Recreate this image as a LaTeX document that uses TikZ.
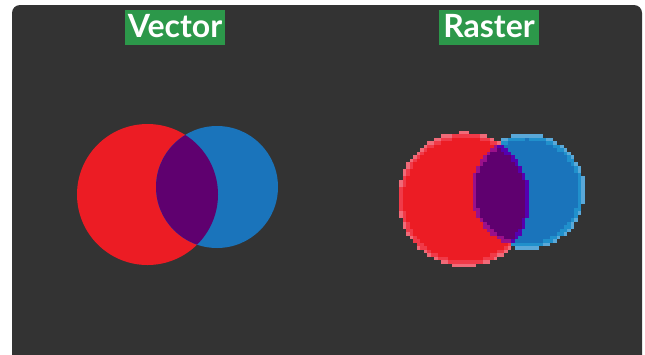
\documentclass[tikz,border=0pt]{standalone}
\usepackage{fontspec}
\setmainfont{Lato}
\definecolor{bgdark}{HTML}{333333}
\definecolor{lblgreen}{HTML}{2C984A}
\definecolor{cred}{HTML}{EC1C24}
\definecolor{cblue}{HTML}{1A74BB}
\definecolor{cpurple}{HTML}{5F006F}
\definecolor{pviolet}{HTML}{5500B0}
\definecolor{pmagenta}{HTML}{9A108A}
\definecolor{redin}{HTML}{F03A48}
\definecolor{bluein}{HTML}{2090CC}
\definecolor{redhalo}{HTML}{F06A78}
\definecolor{bluehalo}{HTML}{5AA8D8}
\tikzset{
  lbl/.style={text=white,font=\fontsize{32}{36}\selectfont\bfseries,inner sep=0pt,anchor=base},
  lblbox/.style={fill=lblgreen,draw=none},
}
\begin{document}
\begin{tikzpicture}[x=1pt,y=-1pt]
\useasboundingbox (0,0) rectangle (645,354);
\fill[white] (0,0) rectangle (645,354);
\begin{scope}
\clip (0,0) rectangle (645,354);
\fill[bgdark,rounded corners=8pt] (12,5) rectangle (642,370);
\end{scope}
% labels
\fill[lblbox] (125,10) rectangle (225,45);
\node[lbl] (vec) at (175,37) {Vector};
\fill[lblbox] (439,10) rectangle (539,45);
\node[lbl] (ras) at (489,37) {Raster};
% vector circles
\fill[cred] (147.5,194.5) circle[radius=70.5];
\fill[cblue] (217,187) circle[radius=61];
\begin{scope}
\clip (147.5,194.5) circle[radius=70.5];
\fill[cpurple] (217,187) circle[radius=61];
\end{scope}
% raster circles (pixelated)
\def\bs{3.5}
\foreach \i in {0,...,56}{
  \foreach \j in {0,...,41}{
    \pgfmathsetmacro\px{394+\i*\bs}
    \pgfmathsetmacro\py{129+\j*\bs}
    \pgfmathsetmacro\dr{veclen(\px-465,\py-199.5)-65}
    \pgfmathsetmacro\db{veclen(\px-527,\py-191.5)-55.5}
    \pgfmathtruncatemacro\code{((\dr<0)&&(\db<0)) ? ((\dr>-3.5) ? 3 : ((\db>-3.5) ? 4 : 2)) : ((\dr<0) ? ((\dr>-3.5) ? 5 : 1) : ((\db<0) ? ((\db>-3.5) ? 7 : 6) : ((\dr<2.2) ? 8 : ((\db<2.2) ? 9 : 0))))}
    \ifnum\code>0
      \ifcase\code\or\def\cc{cred}\or\def\cc{cpurple}\or\def\cc{pviolet}\or\def\cc{pmagenta}\or\def\cc{redin}\or\def\cc{cblue}\or\def\cc{bluein}\or\def\cc{redhalo}\or\def\cc{bluehalo}\fi
      \fill[\cc] (\px-1.9,\py-1.9) rectangle (\px+1.9,\py+1.9);
    \fi
  }
}
\end{tikzpicture}
\end{document}
